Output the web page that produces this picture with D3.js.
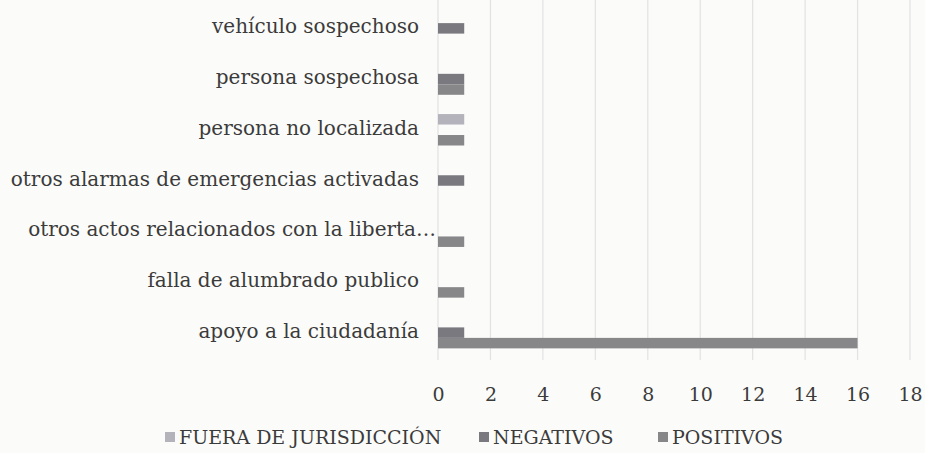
<!DOCTYPE html>
<html>
<head>
<meta charset="utf-8">
<script src="https://cdn.jsdelivr.net/npm/d3@7"></script>
<style>
  body { margin: 0; background: #fbfbfa; }
  text { font-family: "DejaVu Serif", serif; fill: #3b3b3b; }
</style>
</head>
<body>
<div id="chart"></div>
<script>
// categories top to bottom
const categories = [
  "vehículo sospechoso",
  "persona sospechosa",
  "persona no localizada",
  "otros alarmas de emergencias activadas",
  "otros actos relacionados con la liberta…",
  "falla de alumbrado publico",
  "apoyo a la ciudadanía"
];
const seriesNames = ["FUERA DE JURISDICCIÓN", "NEGATIVOS", "POSITIVOS"];
const seriesColors = ["#b4b3bc", "#79797f", "#87878a"];

const fuera     = [0, 0, 1, 0, 0, 0, 0];
const negativos = [1, 1, 0, 1, 0, 0, 1];
const positivos = [0, 1, 1, 0, 1, 1, 16];

const xTicks = [0, 2, 4, 6, 8, 10, 12, 14, 16, 18];

const width = 925, height = 453;
const margin = { top: 3, right: 15, bottom: 95, left: 438 };

const svg = d3.select("#chart")
  .append("svg")
  .attr("width", width)
  .attr("height", height);

const x = d3.scaleLinear()
  .domain([0, 18])
  .range([margin.left, 910]);

const y = d3.scaleBand()
  .domain(categories)
  .range([margin.top, height - margin.bottom])
  .paddingInner(0.38)
  .paddingOuter(0.19);

const ySub = d3.scaleBand()
  .domain(seriesNames)
  .range([0, y.bandwidth()]);

// gridlines
svg.append("g")
  .selectAll("line")
  .data(xTicks)
  .enter().append("line")
  .attr("x1", d => x(d))
  .attr("x2", d => x(d))
  .attr("y1", 0)
  .attr("y2", height - margin.bottom + 2)
  .attr("stroke", "#e2e2e2")
  .attr("stroke-width", 1.2);

// bars
const data = [fuera, negativos, positivos];
const rows = [];
categories.forEach((c, i) => {
  seriesNames.forEach((s, j) => {
    rows.push({ cat: c, series: s, value: data[j][i], color: seriesColors[j] });
  });
});

svg.append("g")
  .selectAll("rect")
  .data(rows.filter(d => d.value > 0))
  .enter().append("rect")
  .attr("x", x(0))
  .attr("y", d => y(d.cat) + ySub(d.series))
  .attr("width", d => x(d.value) - x(0))
  .attr("height", ySub.bandwidth())
  .attr("fill", d => d.color);

// category labels
svg.append("g")
  .selectAll("text")
  .data(categories)
  .enter().append("text")
  .attr("x", d => d.endsWith("…") ? 436 : 419)
  .attr("y", d => y(d) + y.bandwidth() / 2 - 2)
  .attr("dy", ".35em")
  .attr("text-anchor", "end")
  .attr("font-size", 20)
  .text(d => d);

// x axis tick labels
const xAxis = svg.append("g")
  .attr("transform", `translate(0,${height - margin.bottom})`)
  .call(d3.axisBottom(x).tickValues(xTicks).tickSize(0).tickPadding(30));
xAxis.select(".domain").remove();
xAxis.selectAll("text")
  .attr("font-size", 19)
  .attr("font-family", "DejaVu Serif, serif")
  .attr("fill", "#3b3b3b");

// legend
const legendX = [165, 479, 658];
const legend = svg.append("g")
  .selectAll("g")
  .data(seriesNames)
  .enter().append("g")
  .attr("transform", (d, i) => `translate(${legendX[i]},437)`);

legend.append("rect")
  .attr("x", 0)
  .attr("y", -5)
  .attr("width", 10)
  .attr("height", 10)
  .attr("fill", (d, i) => seriesColors[i]);

legend.append("text")
  .attr("x", 14)
  .attr("dy", ".35em")
  .attr("font-size", 19)
  .text(d => d);
</script>
</body>
</html>
